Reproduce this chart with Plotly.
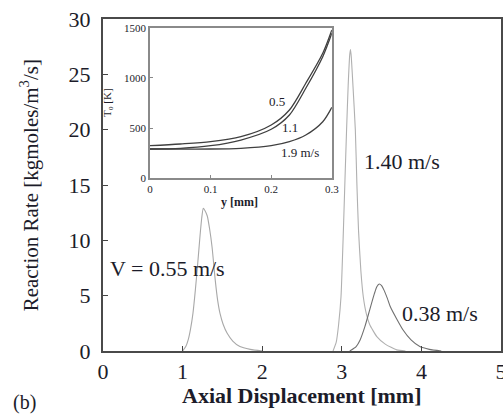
import plotly.graph_objects as go

# Reaction-rate profiles along the axis for three inlet velocities
x_055 = [1.00, 1.04, 1.07, 1.10, 1.13, 1.16, 1.19, 1.22, 1.24, 1.26, 1.28, 1.31, 1.34, 1.37, 1.41, 1.44, 1.47, 1.51, 1.56, 1.63, 1.72, 1.85, 2.00]
y_055 = [0.0, 0.4, 1.0, 2.0, 3.4, 5.5, 7.9, 10.5, 12.0, 12.9, 12.7, 12.2, 11.0, 9.4, 6.4, 4.6, 3.4, 2.4, 1.6, 0.9, 0.4, 0.15, 0.0]

x_140 = [2.89, 2.93, 2.96, 2.99, 3.02, 3.04, 3.06, 3.08, 3.10, 3.11, 3.12, 3.14, 3.17, 3.19, 3.21, 3.24, 3.27, 3.31, 3.35, 3.44, 3.55, 3.69, 3.80]
y_140 = [0.0, 0.8, 2.4, 4.9, 10.9, 15.5, 20.0, 24.0, 26.8, 27.25, 26.5, 24.0, 20.0, 15.0, 10.9, 7.2, 4.9, 3.3, 2.4, 1.3, 0.6, 0.1, 0.0]

x_038 = [3.10, 3.18, 3.23, 3.29, 3.35, 3.41, 3.44, 3.47, 3.50, 3.53, 3.57, 3.61, 3.69, 3.77, 3.87, 3.98, 4.10, 4.25]
y_038 = [0.0, 0.4, 1.0, 2.2, 3.7, 5.2, 5.8, 6.05, 5.9, 5.5, 4.8, 4.0, 2.9, 1.9, 1.0, 0.4, 0.15, 0.0]

# Inset: temperature profiles T_o versus y for three velocities
y_mm = [0.0, 0.05, 0.10, 0.15, 0.20, 0.23, 0.257, 0.285, 0.30]
T_05 = [323, 340, 363, 413, 530, 680, 947, 1247, 1480]
T_11 = [290, 297, 323, 380, 487, 630, 897, 1213, 1447]
T_19 = [290, 290, 290, 297, 323, 363, 430, 563, 707]

x_ticks = [0, 1, 2, 3, 4, 5]
y_ticks = [0, 5, 10, 15, 20, 25, 30]
inset_x_ticks = [0, 0.1, 0.2, 0.3]
inset_y_ticks = [0, 500, 1000, 1500]

SERIF = "Liberation Serif, Times New Roman, serif"
TXT = "#1c1c2a"

fig = go.Figure()

fig.add_trace(go.Scatter(x=x_055, y=y_055, mode="lines", line=dict(color="#a8a8a8", width=1.1, shape="spline", smoothing=0.6), xaxis="x", yaxis="y"))
fig.add_trace(go.Scatter(x=x_140, y=y_140, mode="lines", line=dict(color="#b0b0b0", width=1.1, shape="spline", smoothing=0.5), xaxis="x", yaxis="y"))
fig.add_trace(go.Scatter(x=x_038, y=y_038, mode="lines", line=dict(color="#707070", width=1.1, shape="spline", smoothing=0.6), xaxis="x", yaxis="y"))

for T in (T_05, T_11, T_19):
    fig.add_trace(go.Scatter(x=y_mm, y=T, mode="lines", line=dict(color="#404040", width=1.3, shape="spline", smoothing=0.8), xaxis="x2", yaxis="y2"))

fig.update_layout(
    width=503, height=414,
    margin=dict(l=103, r=2, t=19, b=63, autoexpand=False),
    paper_bgcolor="white", plot_bgcolor="white",
    showlegend=False,
    font=dict(family=SERIF, color=TXT),
    xaxis=dict(domain=[0, 1], range=[0, 5], tickvals=x_ticks, ticks="inside", ticklen=5, tickcolor="#444",
               showline=True, mirror=True, linecolor="#4a4a4a", linewidth=2, showgrid=False, zeroline=False,
               automargin=False, ticklabeloverflow="allow", tickfont=dict(size=22, family=SERIF, color=TXT)),
    yaxis=dict(domain=[0, 1], range=[0, 30], tickvals=y_ticks, ticks="inside", ticklen=5, tickcolor="#444",
               showline=True, mirror=True, linecolor="#4a4a4a", linewidth=2, showgrid=False, zeroline=False,
               automargin=False, ticklabeloverflow="allow", ticklabelstandoff=6,
               tickfont=dict(size=22, family=SERIF, color=TXT)),
    xaxis2=dict(domain=[0.118, 0.575], anchor="y2", range=[0, 0.3], tickvals=inset_x_ticks,
                ticktext=["0", "0.1", "0.2", "0.3"], ticks="inside", ticklen=3, tickcolor="#888",
                showline=True, mirror=True, linecolor="#8a8a8a", linewidth=1.5, showgrid=False, zeroline=False,
                automargin=False, tickfont=dict(size=11, family=SERIF, color=TXT)),
    yaxis2=dict(domain=[0.521, 0.973], anchor="x2", range=[0, 1500], tickvals=inset_y_ticks,
                ticks="inside", ticklen=3, tickcolor="#888",
                showline=True, mirror=True, linecolor="#8a8a8a", linewidth=1.5, showgrid=False, zeroline=False,
                automargin=False, tickfont=dict(size=11, family=SERIF, color=TXT)),
)

ann = [
    dict(text="V = 0.55 m/s", x=0.063, y=7.5, xref="x", yref="y", xanchor="left", font=dict(size=22)),
    dict(text="1.40 m/s", x=3.25, y=17.1, xref="x", yref="y", xanchor="left", font=dict(size=22)),
    dict(text="0.38 m/s", x=3.73, y=3.43, xref="x", yref="y", xanchor="left", font=dict(size=22)),
    dict(text="0.5", x=0.209, y=763, xref="x2", yref="y2", font=dict(size=13)),
    dict(text="1.1", x=0.231, y=503, xref="x2", yref="y2", font=dict(size=13)),
    dict(text="1.9 m/s", x=0.247, y=257, xref="x2", yref="y2", font=dict(size=13)),
    dict(text="<b>y [mm]</b>", x=0.344, y=0.449, xref="paper", yref="paper", font=dict(size=12)),
    dict(text="T<sub>o</sub> [K]", x=0.0126, y=0.747, xref="paper", yref="paper", textangle=-90, font=dict(size=11)),
    dict(text="Reaction Rate [kgmoles/m<sup>3</sup>/s]", x=-0.185, y=0.5, xref="paper", yref="paper",
         textangle=-90, font=dict(size=21)),
    dict(text="<b>Axial Displacement [mm]</b>", x=0.5, y=-0.1355, xref="paper", yref="paper", font=dict(size=22)),
    dict(text="(b)", x=-0.196, y=-0.154, xref="paper", yref="paper", font=dict(size=20)),
]
for a in ann:
    a.setdefault("showarrow", False)
    a.setdefault("xanchor", "center")
    a.setdefault("yanchor", "middle")
    a["font"].setdefault("family", SERIF)
    a["font"].setdefault("color", TXT)
fig.update_layout(annotations=ann)

fig.write_html("out.html")
